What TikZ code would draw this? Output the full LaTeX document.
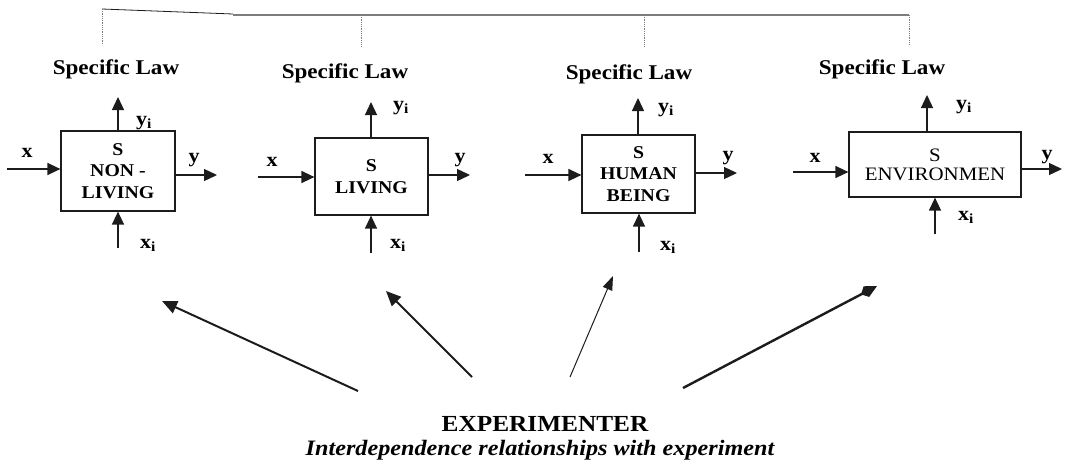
\documentclass[tikz,border=0pt]{standalone}
\usepackage{fontspec}
\setmainfont{Liberation Serif}[FakeStretch=1.1]
\usetikzlibrary{arrows.meta}
\definecolor{InkBlack}{RGB}{28, 28, 28}
\definecolor{RuleGray}{RGB}{125, 125, 125}

\begin{document}
\begin{tikzpicture}[x=1pt, y=-1pt,
    sysbox/.style={draw=InkBlack, line width=1.2pt, align=center, inner sep=0pt,
      font=\fontsize{18}{21.5}\selectfont\bfseries},
    sig/.style={-{Triangle[length=13pt,width=12pt]}, line width=1.3pt, InkBlack},
    probe/.style={-{Triangle[length=15pt,width=13pt]}, line width=2pt, InkBlack},
    lawtext/.style={font=\fontsize{21}{24}\selectfont\bfseries},
    vartext/.style={font=\fontsize{20}{22}\selectfont\bfseries},
    drop/.style={RuleGray, densely dotted, line width=0.8pt}]
    \useasboundingbox (0,0) rectangle (1068,464);

    % Bracket joining the specific laws
    \draw[InkBlack, line width=0.8pt] (102,9) -- (233,14);
    \draw[RuleGray, line width=1.8pt] (233,15) -- (909,15);
    \draw[drop] (102,9) -- (102,45);
    \draw[drop] (361,15) -- (361,47);
    \draw[drop] (644,15) -- (644,46);
    \draw[drop] (909,15) -- (909,44);

    % Specific law labels
    \node[lawtext] (law1) at (116,69) {Specific Law};
    \node[lawtext] (law2) at (345,73) {Specific Law};
    \node[lawtext] (law3) at (629,74) {Specific Law};
    \node[lawtext] (law4) at (882,69) {Specific Law};

    % Systems
    \node[sysbox, minimum width=114pt, minimum height=80pt] (nonliving) at (118,171) {S\\NON -\\LIVING};
    \node[sysbox, minimum width=113pt, minimum height=77pt] (living) at (371.5,176.5) {S\\LIVING};
    \node[sysbox, minimum width=113pt, minimum height=78pt] (human) at (638.5,174) {S\\HUMAN\\BEING};
    \node[sysbox, minimum width=172pt, minimum height=65pt,
      font=\fontsize{19}{19}\selectfont] (environ) at (935,164.5) {S\\ENVIRONMEN};

    % Free ends of the signals
    \coordinate (xin1) at (7,169);    \coordinate (yout1) at (217,175);
    \coordinate (yup1) at (118,97);   \coordinate (xlow1) at (118,248);
    \coordinate (xin2) at (258,177);  \coordinate (yout2) at (470,175);
    \coordinate (yup2) at (371,102);  \coordinate (xlow2) at (371,253);
    \coordinate (xin3) at (525,175);  \coordinate (yout3) at (737,173);
    \coordinate (yup3) at (638,98);   \coordinate (xlow3) at (639,252);
    \coordinate (xin4) at (793,172);  \coordinate (yout4) at (1062,169);
    \coordinate (yup4) at (927,95);   \coordinate (xlow4) at (935,234);

    % Non-living
    \draw[sig] (xin1) -- (xin1 -| nonliving.west);
    \draw[sig] (yout1 -| nonliving.east) -- (yout1);
    \draw[sig] (yup1 |- nonliving.north) -- (yup1);
    \draw[sig] (xlow1) -- (xlow1 |- nonliving.south);
    \node[vartext] (x1) at (27,153) {x};
    \node[vartext] (y1) at (194,160) {y};
    \node[vartext] (yi1) at (144,123) {y\textsubscript{i}};
    \node[vartext] (xi1) at (148,245) {x\textsubscript{i}};

    % Living
    \draw[sig] (xin2) -- (xin2 -| living.west);
    \draw[sig] (yout2 -| living.east) -- (yout2);
    \draw[sig] (yup2 |- living.north) -- (yup2);
    \draw[sig] (xlow2) -- (xlow2 |- living.south);
    \node[vartext] (x2) at (272,162) {x};
    \node[vartext] (y2) at (460,160) {y};
    \node[vartext] (yi2) at (401,108) {y\textsubscript{i}};
    \node[vartext] (xi2) at (398,245) {x\textsubscript{i}};

    % Human being
    \draw[sig] (xin3) -- (xin3 -| human.west);
    \draw[sig] (yout3 -| human.east) -- (yout3);
    \draw[sig] (yup3 |- human.north) -- (yup3);
    \draw[sig] (xlow3) -- (xlow3 |- human.south);
    \node[vartext] (x3) at (548,159) {x};
    \node[vartext] (y3) at (728,158) {y};
    \node[vartext] (yi3) at (666,110) {y\textsubscript{i}};
    \node[vartext] (xi3) at (668,247) {x\textsubscript{i}};

    % Environment
    \draw[sig] (xin4) -- (xin4 -| environ.west);
    \draw[sig] (yout4 -| environ.east) -- (yout4);
    \draw[sig] (yup4 |- environ.north) -- (yup4);
    \draw[sig] (xlow4) -- (xlow4 |- environ.south);
    \node[vartext] (x4) at (815,158) {x};
    \node[vartext] (y4) at (1047,157) {y};
    \node[vartext] (yi4) at (964,107) {y\textsubscript{i}};
    \node[vartext] (xi4) at (966,217) {x\textsubscript{i}};

    % Experimenter
    \coordinate (tail1) at (358,391);  \coordinate (tip1) at (162,301);
    \coordinate (tail2) at (472,377);  \coordinate (tip2) at (386,291);
    \coordinate (tail3) at (570,377);  \coordinate (tip3) at (613,276);
    \coordinate (tail4) at (683,388);  \coordinate (tip4) at (877,286);
    \draw[probe] (tail1) -- (tip1);
    \draw[probe] (tail2) -- (tip2);
    \draw[probe, line width=1pt, -{Triangle[length=14pt,width=10pt]}] (tail3) -- (tip3);
    \draw[probe, line width=2.4pt, -{Kite[length=18pt,width=12pt,inset=6pt]}] (tail4) -- (tip4);

    \node[font=\fontsize{23}{25}\selectfont\bfseries, inner sep=1pt] (expt) at (545,424) {EXPERIMENTER};
    \node[font=\fontsize{22}{25}\selectfont\bfseries\itshape, inner sep=1pt] (relation) at (540,450)
      {Interdependence relationships with experiment};
\end{tikzpicture}
\end{document}
